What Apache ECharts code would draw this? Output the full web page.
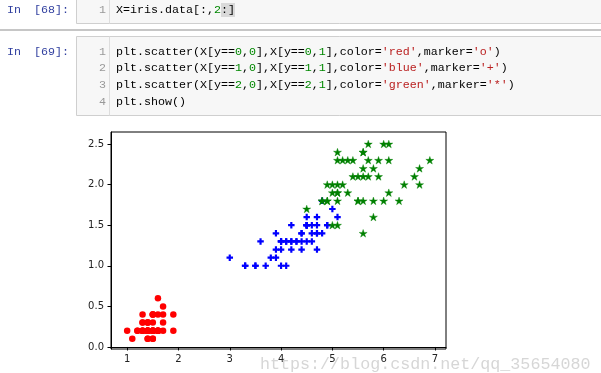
<!DOCTYPE html>
<html>
<head>
<meta charset="utf-8">
<script src="https://cdn.jsdelivr.net/npm/echarts@6/dist/echarts.min.js"></script>
<style>
html,body{margin:0;padding:0;background:#fff;}
#c{width:601px;height:373px;}
</style>
</head>
<body>
<div id="c"></div>
<script>
// ---- data: iris petal length (x) / petal width (y) per class ----
const setosaLen = [1.4,1.4,1.3,1.5,1.4,1.7,1.4,1.5,1.4,1.5,1.5,1.6,1.4,1.1,1.2,1.5,1.3,1.4,1.7,1.5,1.7,1.5,1.0,1.7,1.9,1.6,1.6,1.5,1.4,1.6,1.6,1.5,1.5,1.4,1.5,1.2,1.3,1.4,1.3,1.5,1.3,1.3,1.3,1.6,1.9,1.4,1.6,1.4,1.5,1.4];
const setosaWid = [0.2,0.2,0.2,0.2,0.2,0.4,0.3,0.2,0.2,0.1,0.2,0.2,0.1,0.1,0.2,0.4,0.4,0.3,0.3,0.3,0.2,0.4,0.2,0.5,0.2,0.2,0.4,0.2,0.2,0.2,0.2,0.4,0.1,0.2,0.2,0.2,0.2,0.1,0.2,0.2,0.3,0.3,0.2,0.6,0.4,0.3,0.2,0.2,0.2,0.2];
const versicolorLen = [4.7,4.5,4.9,4.0,4.6,4.5,4.7,3.3,4.6,3.9,3.5,4.2,4.0,4.7,3.6,4.4,4.5,4.1,4.5,3.9,4.8,4.0,4.9,4.7,4.3,4.4,4.8,5.0,4.5,3.5,3.8,3.7,3.9,5.1,4.5,4.5,4.7,4.4,4.1,4.0,4.4,4.6,4.0,3.3,4.2,4.2,4.2,4.3,3.0,4.1];
const versicolorWid = [1.4,1.5,1.5,1.3,1.5,1.3,1.6,1.0,1.3,1.4,1.0,1.5,1.0,1.4,1.3,1.4,1.5,1.0,1.5,1.1,1.8,1.3,1.5,1.2,1.3,1.4,1.4,1.7,1.5,1.0,1.1,1.0,1.2,1.6,1.5,1.6,1.5,1.3,1.3,1.3,1.2,1.4,1.2,1.0,1.3,1.2,1.3,1.3,1.1,1.3];
const virginicaLen = [6.0,5.1,5.9,5.6,5.8,6.6,4.5,6.3,5.8,6.1,5.1,5.3,5.5,5.0,5.1,5.3,5.5,6.7,6.9,5.0,5.7,4.9,6.7,4.9,5.7,6.0,4.8,4.9,5.6,5.8,6.1,6.4,5.6,5.1,5.6,6.1,5.6,5.5,4.8,5.4,5.6,5.1,5.1,5.9,5.7,5.2,5.0,5.2,5.4,5.1];
const virginicaWid = [2.5,1.9,2.1,1.8,2.2,2.1,1.7,1.8,1.8,2.5,2.0,1.9,2.1,2.0,2.4,2.3,1.8,2.2,2.3,1.5,2.3,2.0,2.0,1.8,2.1,1.8,1.8,1.8,2.1,1.6,1.9,2.0,2.2,1.5,1.4,2.3,2.4,1.8,1.8,2.1,2.4,2.3,1.9,2.3,2.5,2.3,1.9,2.0,2.3,1.8];
const xTicks = [1,2,3,4,5,6,7];
const yTicks = [0,0.5,1,1.5,2,2.5];

// ---- notebook text ----
const cell1Code = ["X=iris.data[:,{n|2}:]"];
const cell2Code = [
  "plt.scatter(X[y=={n|0},{n|0}],X[y=={n|0},{n|1}],color={s|'red'},marker={s|'o'})",
  "plt.scatter(X[y=={n|1},{n|0}],X[y=={n|1},{n|1}],color={s|'blue'},marker={s|'+'})",
  "plt.scatter(X[y=={n|2},{n|0}],X[y=={n|2},{n|1}],color={s|'green'},marker={s|'*'})",
  "plt.show()"
];

const zip = (a, b) => a.map((v, i) => [v, b[i]]);
const MONO = '"Liberation Mono", "DejaVu Sans Mono", monospace';
const FS = 11.67;
const richStyles = {
  n: {fill: '#008800', fontFamily: MONO, fontSize: FS},
  s: {fill: '#BA2121', fontFamily: MONO, fontSize: FS}
};

const graphics = [];
// separator
graphics.push({type:'rect', shape:{x:0,y:29,width:601,height:2}, style:{fill:'#c6c6c6'}, silent:true, z:0});
// cells
function cell(top, bottom) {
  graphics.push({type:'rect', shape:{x:76.5,y:top,width:600,height:bottom-top}, style:{fill:'#f7f7f7', stroke:'#cfcfcf', lineWidth:1}, silent:true, z:0});
  graphics.push({type:'line', shape:{x1:109.5,y1:Math.max(top,0),x2:109.5,y2:bottom}, style:{stroke:'#dddddd', lineWidth:1}, silent:true, z:1});
}
cell(-10.5, 23.5);
cell(36.5, 115.5);
// matching-bracket highlight
graphics.push({type:'rect', shape:{x:221,y:3,width:14,height:14}, style:{fill:'#d9d9d9'}, silent:true, z:1});

function prompt(num, y) {
  graphics.push({type:'text', x:7, y:y, style:{text:'In', fill:'#303F9F', fontFamily:MONO, fontSize:FS, verticalAlign:'middle'}, silent:true, z:2});
  graphics.push({type:'text', x:69, y:y, style:{text:'[' + num + ']:', fill:'#303F9F', fontFamily:MONO, fontSize:FS, align:'right', verticalAlign:'middle'}, silent:true, z:2});
}
function codeLines(lines, y0) {
  lines.forEach((t, i) => {
    const y = y0 + i * 16.75;
    graphics.push({type:'text', x:106, y:y, style:{text:String(i + 1), fill:'#999999', fontFamily:MONO, fontSize:FS, align:'right', verticalAlign:'middle'}, silent:true, z:2});
    graphics.push({type:'text', x:116, y:y, style:{text:t, fill:'#000000', fontFamily:MONO, fontSize:FS, verticalAlign:'middle', rich:richStyles}, silent:true, z:2});
  });
}
prompt(68, 9.5);
codeLines(cell1Code, 9.5);
prompt(69, 51.5);
codeLines(cell2Code, 51.5);

// watermark
graphics.push({type:'text', x:260, y:356, style:{text:'https://blog.csdn.net/qq_35654080', fill:'rgba(165,165,165,0.45)', fontFamily:MONO, fontSize:16.7, verticalAlign:'alphabetic'}, silent:true, z:100});

const STAR = 'path://M0,-1L0.2245,-0.309L0.9511,-0.309L0.3633,0.118L0.5878,0.809L0,0.382L-0.5878,0.809L-0.3633,0.118L-0.9511,-0.309L-0.2245,-0.309Z';
const PLUS = 'path://M2,0H4V2H6V4H4V6H2V4H0V2H2Z';

const axisText = {color:'#222222', fontFamily:'"DejaVu Sans", sans-serif', fontSize:10};

const chart = echarts.init(document.getElementById('c'), null, {renderer:'canvas'});
chart.setOption({
  animation:false,
  backgroundColor:'transparent',
  graphic: graphics,
  grid: {left:111, top:132, width:335, height:217, show:true, borderColor:'#000000', borderWidth:1, backgroundColor:'#ffffff', containLabel:false, outerBoundsMode:'none'},
  xAxis: {
    type:'value', min:0.685, max:7.215,
    splitLine:{show:false},
    axisLine:{show:true, lineStyle:{color:'#000000', width:1}},
    axisTick:{show:true, length:3.5, lineStyle:{color:'#000000', width:1}, customValues:xTicks},
    axisLabel:Object.assign({margin:5, customValues:xTicks, formatter:(v)=>String(v)}, axisText)
  },
  yAxis: {
    type:'value', min:-0.025, max:2.648,
    splitLine:{show:false},
    axisLine:{show:true, lineStyle:{color:'#000000', width:1}},
    axisTick:{show:true, length:3.5, lineStyle:{color:'#000000', width:1}, customValues:yTicks},
    axisLabel:Object.assign({margin:7, customValues:yTicks, formatter:(v)=>Number(v).toFixed(1)}, axisText)
  },
  series: [
    {type:'scatter', data:zip(setosaLen, setosaWid), symbol:'circle', symbolSize:6.5, itemStyle:{color:'#ff0000', opacity:1}, silent:true},
    {type:'scatter', data:zip(versicolorLen, versicolorWid), symbol:PLUS, symbolSize:6.5, itemStyle:{color:'#0000ff', opacity:1}, silent:true},
    {type:'scatter', data:zip(virginicaLen, virginicaWid), symbol:STAR, symbolSize:8, symbolKeepAspect:true, itemStyle:{color:'#008000', opacity:1, borderColor:'#008000', borderWidth:0.4}, silent:true}
  ]
});
</script>
</body>
</html>
